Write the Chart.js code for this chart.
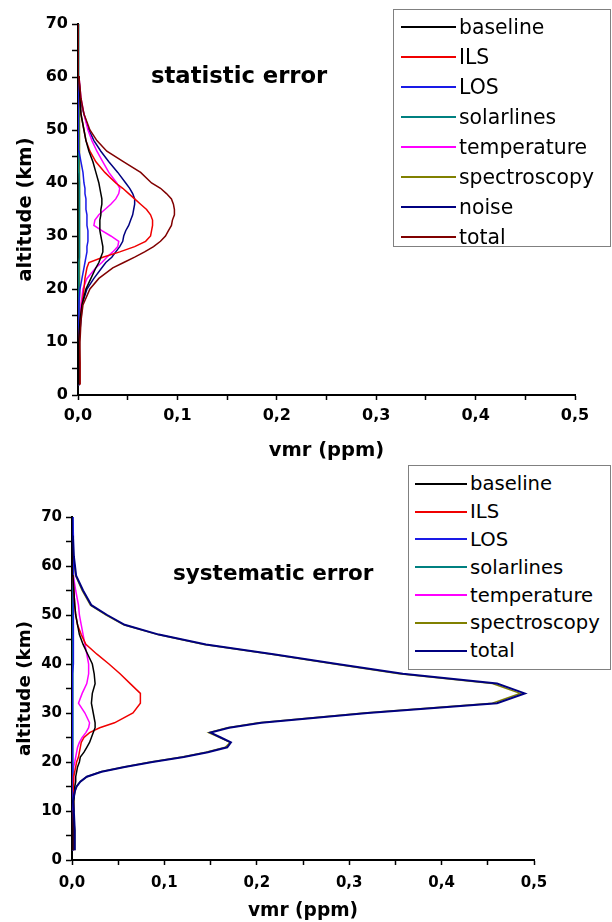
<!DOCTYPE html>
<html>
<head>
<meta charset="utf-8">
<title>error profiles</title>
<script src="https://cdn.jsdelivr.net/npm/chart.js@4.4.1/dist/chart.umd.min.js"></script>
<style>
    html, body { margin: 0; padding: 0; background: #fff; }
    body { width: 612px; height: 922px; position: relative; overflow: hidden; font-family: "DejaVu Sans", sans-serif; color: #000; }
    canvas { position: absolute; left: 0; }
    .plotTitle { position: absolute; font-weight: bold; line-height: 1; white-space: nowrap; }
    .legend { position: absolute; box-sizing: border-box; border: 1px solid #808080; background: #fff; }
    .legend .row { display: flex; align-items: center; white-space: nowrap; }
    .legend .swatch { display: inline-block; height: 2px; }
</style>
</head>
<body>

<canvas id="statChart" width="612" height="470" style="top:0"></canvas>
<canvas id="sysChart" width="612" height="462" style="top:460px"></canvas>

<div class="plotTitle" id="statTitle" style="left:151px; top:64px; font-size:22.7px">statistic error</div>
<div class="plotTitle" id="sysTitle" style="left:173px; top:562px; font-size:21.5px">systematic error</div>

<div class="legend" id="statLegend" style="left:393px; top:9px; width:218px; height:238px; padding-top:2px"></div>
<div class="legend" id="sysLegend" style="left:408px; top:465px; width:203px; height:205px; padding-top:4px"></div>

<script>
// altitude grid (km) of the two panels
const altStat = [2, 6, 10, 14, 17, 20, 22, 24, 25, 26, 27, 28, 29, 30, 31, 32, 33, 34, 35, 36, 37, 38, 39, 40, 42, 44, 46, 48, 50, 53, 56, 60, 65, 70];
const altSys = [2, 6, 10, 12, 14, 15, 16, 17, 18, 19, 20, 21, 22, 23, 24, 25, 26, 27, 28, 30, 32, 34, 36, 38, 40, 42, 44, 46, 48, 50, 52, 55, 58, 62, 66, 70];

// statistic error, vmr (ppm)
const statBaseline = [0.0005, 0.0005, 0.001, 0.002, 0.004, 0.008, 0.013, 0.018, 0.021, 0.023, 0.025, 0.025, 0.024, 0.023, 0.022, 0.022, 0.022, 0.023, 0.023, 0.024, 0.024, 0.023, 0.022, 0.021, 0.018, 0.015, 0.011, 0.008, 0.006, 0.003, 0.002, 0.001, 0.0005, 0];
const statILS = [0.002, 0.002, 0.001, 0.002, 0.004, 0.006, 0.007, 0.009, 0.011, 0.025, 0.042, 0.057, 0.068, 0.073, 0.074, 0.075, 0.075, 0.073, 0.069, 0.063, 0.057, 0.051, 0.045, 0.038, 0.027, 0.018, 0.012, 0.008, 0.006, 0.003, 0.002, 0.001, 0.0005, 0];
const statLOS = [0.0005, 0.0005, 0.001, 0.001, 0.001, 0.002, 0.004, 0.006, 0.007, 0.008, 0.009, 0.009, 0.010, 0.010, 0.010, 0.009, 0.009, 0.009, 0.008, 0.008, 0.008, 0.007, 0.007, 0.006, 0.005, 0.003, 0.001, 0.001, 0.0005, 0, 0, 0, 0, 0];
const statSolar = [0.0005, 0.0005, 0.0005, 0.001, 0.001, 0.001, 0.001, 0.001, 0.001, 0.0015, 0.0015, 0.0015, 0.0015, 0.0015, 0.0015, 0.0015, 0.0015, 0.0015, 0.0015, 0.0015, 0.0015, 0.0015, 0.0015, 0.0015, 0.001, 0.001, 0.001, 0.001, 0.001, 0.001, 0.001, 0.0005, 0, 0];
const statTemp = [0.0005, 0.0005, 0.001, 0.002, 0.003, 0.005, 0.009, 0.018, 0.024, 0.029, 0.035, 0.040, 0.041, 0.033, 0.024, 0.016, 0.017, 0.021, 0.027, 0.033, 0.038, 0.041, 0.042, 0.039, 0.031, 0.025, 0.019, 0.014, 0.010, 0.006, 0.003, 0.001, 0.0005, 0];
const statSpectro = [0, 0, 0.0005, 0.0015, 0.0015, 0.0015, 0.0015, 0.0015, 0.0015, 0.0015, 0.0015, 0.0015, 0.0015, 0.0015, 0.0015, 0.0015, 0.0015, 0.0015, 0.0015, 0.0015, 0.0015, 0.0015, 0.0015, 0.0015, 0.0015, 0.0015, 0.0015, 0.0015, 0.0015, 0.0015, 0.0015, 0.0005, 0, 0];
const statNoise = [0.0005, 0.0005, 0.001, 0.003, 0.004, 0.009, 0.016, 0.024, 0.028, 0.034, 0.038, 0.042, 0.045, 0.046, 0.048, 0.051, 0.053, 0.055, 0.056, 0.057, 0.057, 0.055, 0.052, 0.048, 0.040, 0.031, 0.023, 0.016, 0.011, 0.006, 0.002, 0.001, 0.0005, 0];
const statTotal = [0.002, 0.002, 0.002, 0.003, 0.005, 0.012, 0.021, 0.035, 0.046, 0.057, 0.067, 0.076, 0.083, 0.088, 0.091, 0.094, 0.095, 0.097, 0.097, 0.096, 0.094, 0.089, 0.083, 0.074, 0.063, 0.046, 0.029, 0.019, 0.012, 0.006, 0.003, 0.001, 0.0005, 0];

// systematic error, vmr (ppm)
const sysBaseline = [0.001, 0.001, 0.0015, 0.002, 0.003, 0.003, 0.004, 0.004, 0.005, 0.006, 0.008, 0.009, 0.013, 0.016, 0.019, 0.021, 0.023, 0.025, 0.025, 0.023, 0.021, 0.022, 0.025, 0.024, 0.022, 0.017, 0.012, 0.008, 0.006, 0.004, 0.003, 0.002, 0.001, 0.0005, 0, 0];
const sysILS = [0.001, 0.001, 0.0015, 0.0015, 0.0015, 0.0015, 0.002, 0.002, 0.003, 0.004, 0.005, 0.007, 0.008, 0.009, 0.010, 0.013, 0.019, 0.030, 0.046, 0.066, 0.074, 0.074, 0.063, 0.052, 0.040, 0.027, 0.015, 0.010, 0.006, 0.004, 0.003, 0.002, 0.001, 0.0005, 0, 0];
const sysLOS = [0.0005, 0.0005, 0.0005, 0.0005, 0.0005, 0.0005, 0.0005, 0.0005, 0.0005, 0.0005, 0.0005, 0.0005, 0.0005, 0.0005, 0.0005, 0.0005, 0.0005, 0.0005, 0.0005, 0.0005, 0.0005, 0.0005, 0.0005, 0.001, 0.0015, 0.0015, 0.0015, 0.0015, 0.0015, 0.0015, 0.0015, 0.0015, 0.0015, 0.0015, 0.0015, 0.001];
const sysSolar = [0.0005, 0.0005, 0.001, 0.001, 0.001, 0.001, 0.001, 0.001, 0.001, 0.001, 0.001, 0.001, 0.001, 0.001, 0.001, 0.001, 0.001, 0.001, 0.001, 0.001, 0.001, 0.001, 0.001, 0.001, 0.001, 0.001, 0.001, 0.001, 0.001, 0.001, 0.001, 0.001, 0.001, 0.001, 0.0005, 0];
const sysTemp = [0.002, 0.002, 0.001, 0.001, 0.001, 0.001, 0.0015, 0.0015, 0.002, 0.002, 0.003, 0.004, 0.005, 0.006, 0.008, 0.011, 0.015, 0.018, 0.019, 0.014, 0.007, 0.011, 0.016, 0.018, 0.018, 0.016, 0.014, 0.012, 0.010, 0.008, 0.007, 0.004, 0.0015, 0.001, 0.001, 0.0005];
const sysSpectro = [0.003, 0.003, 0.001, 0.001, 0.003, 0.005, 0.009, 0.016, 0.031, 0.056, 0.085, 0.119, 0.145, 0.166, 0.171, 0.160, 0.148, 0.168, 0.202, 0.316, 0.455, 0.485, 0.455, 0.354, 0.284, 0.216, 0.143, 0.093, 0.056, 0.037, 0.020, 0.011, 0.004, 0.0015, 0.0005, 0];
const sysTotal = [0.003, 0.003, 0.002, 0.001, 0.003, 0.005, 0.009, 0.016, 0.032, 0.057, 0.087, 0.121, 0.147, 0.168, 0.172, 0.161, 0.150, 0.170, 0.205, 0.320, 0.460, 0.490, 0.460, 0.358, 0.287, 0.218, 0.145, 0.094, 0.057, 0.038, 0.021, 0.012, 0.0045, 0.002, 0.001, 0];

// axis ticks
const altTicks = [0, 10, 20, 30, 40, 50, 60, 70];
const vmrTicks = [0.0, 0.1, 0.2, 0.3, 0.4, 0.5];

const statSeries = [
    { name: 'baseline', color: '#000000', values: statBaseline },
    { name: 'ILS', color: '#f00000', values: statILS },
    { name: 'LOS', color: '#1a1ae6', values: statLOS },
    { name: 'solarlines', color: '#008080', values: statSolar },
    { name: 'temperature', color: '#ff00ff', values: statTemp },
    { name: 'spectroscopy', color: '#808000', values: statSpectro },
    { name: 'noise', color: '#000080', values: statNoise },
    { name: 'total', color: '#800000', values: statTotal }
];

const sysSeries = [
    { name: 'baseline', color: '#000000', values: sysBaseline },
    { name: 'ILS', color: '#f00000', values: sysILS },
    { name: 'LOS', color: '#1a1ae6', values: sysLOS },
    { name: 'solarlines', color: '#008080', values: sysSolar },
    { name: 'temperature', color: '#ff00ff', values: sysTemp },
    { name: 'spectroscopy', color: '#808000', values: sysSpectro },
    { name: 'total', color: '#000080', values: sysTotal, width: 2 }
];

const isTenth = v => Math.abs(v * 10 - Math.round(v * 10)) < 1e-6;

function makeChart(id, alts, series, box) {
    const ctx = document.getElementById(id).getContext('2d');
    return new Chart(ctx, {
        type: 'scatter',
        data: {
            datasets: series.map((s, i) => ({
                label: s.name,
                data: alts.map((a, k) => ({ x: s.values[k], y: a })),
                showLine: true,
                borderColor: s.color,
                backgroundColor: s.color,
                borderWidth: s.width || 1.5,
                pointRadius: 0,
                tension: 0,
                order: s.name === 'total' ? 0 : 1 + i
            }))
        },
        options: {
            responsive: false,
            animation: false,
            events: [],
            layout: { padding: { left: 0, top: box.top, right: box.right, bottom: 0 } },
            plugins: { legend: { display: false }, tooltip: { enabled: false } },
            scales: {
                x: {
                    type: 'linear',
                    min: vmrTicks[0],
                    max: vmrTicks[vmrTicks.length - 1],
                    afterFit: scale => { scale.height = box.xHeight; },
                    border: { color: '#000', width: 2 },
                    grid: { drawOnChartArea: false, drawTicks: true, tickLength: 5, tickColor: '#000', tickWidth: 1.5 },
                    ticks: {
                        stepSize: 0.05,
                        autoSkip: false,
                        maxRotation: 0,
                        padding: box.xPad,
                        color: '#000',
                        font: { family: 'DejaVu Sans', size: box.tickSize, weight: 'bold' },
                        callback: v => isTenth(v) ? v.toFixed(1).replace('.', ',') : ''
                    },
                    title: {
                        display: true,
                        text: 'vmr (ppm)',
                        color: '#000',
                        padding: { top: 0, bottom: box.xTitlePad },
                        font: { family: 'DejaVu Sans', size: box.titleSize, weight: 'bold' }
                    }
                },
                y: {
                    type: 'linear',
                    min: altTicks[0],
                    max: altTicks[altTicks.length - 1],
                    afterFit: scale => { scale.width = box.yWidth; },
                    border: { color: '#000', width: 2 },
                    grid: { drawOnChartArea: false, drawTicks: true, tickLength: 6, tickColor: '#000', tickWidth: 1.5 },
                    ticks: {
                        stepSize: 5,
                        autoSkip: false,
                        padding: 4,
                        color: '#000',
                        font: { family: 'DejaVu Sans', size: box.tickSize, weight: 'bold' },
                        callback: v => altTicks.includes(v) ? String(v) : ''
                    },
                    title: {
                        display: true,
                        text: 'altitude (km)',
                        color: '#000',
                        padding: { top: box.yTitlePad, bottom: 0 },
                        font: { family: 'DejaVu Sans', size: box.yTitleSize, weight: 'bold' }
                    }
                }
            }
        }
    });
}

function buildLegend(id, series, rowHeight, fontSize, swatchLeft, swatchWidth) {
    const el = document.getElementById(id);
    el.innerHTML = series.map(s => `
        <div class="row" style="height:${rowHeight}px; font-size:${fontSize}px">
            <span class="swatch" style="margin-left:${swatchLeft}px; width:${swatchWidth}px; background:${s.color}"></span>
            <span style="margin-left:3px">${s.name}</span>
        </div>
    `).join('');
}

makeChart('statChart', altStat, statSeries, {
    top: 24, right: 37, yWidth: 78, xHeight: 75, xPad: 6, xTitlePad: 7,
    tickSize: 16, titleSize: 19.5, yTitleSize: 19.5, yTitlePad: 14
});

makeChart('sysChart', altSys, sysSeries, {
    top: 57, right: 78, yWidth: 72, xHeight: 62, xPad: 9, xTitlePad: 0,
    tickSize: 15, titleSize: 18.6, yTitleSize: 18.3, yTitlePad: 14
});

buildLegend('statLegend', statSeries, 30, 20.4, 7, 55);
buildLegend('sysLegend', sysSeries, 27.8, 19.6, 6, 52);
</script>
</body>
</html>
